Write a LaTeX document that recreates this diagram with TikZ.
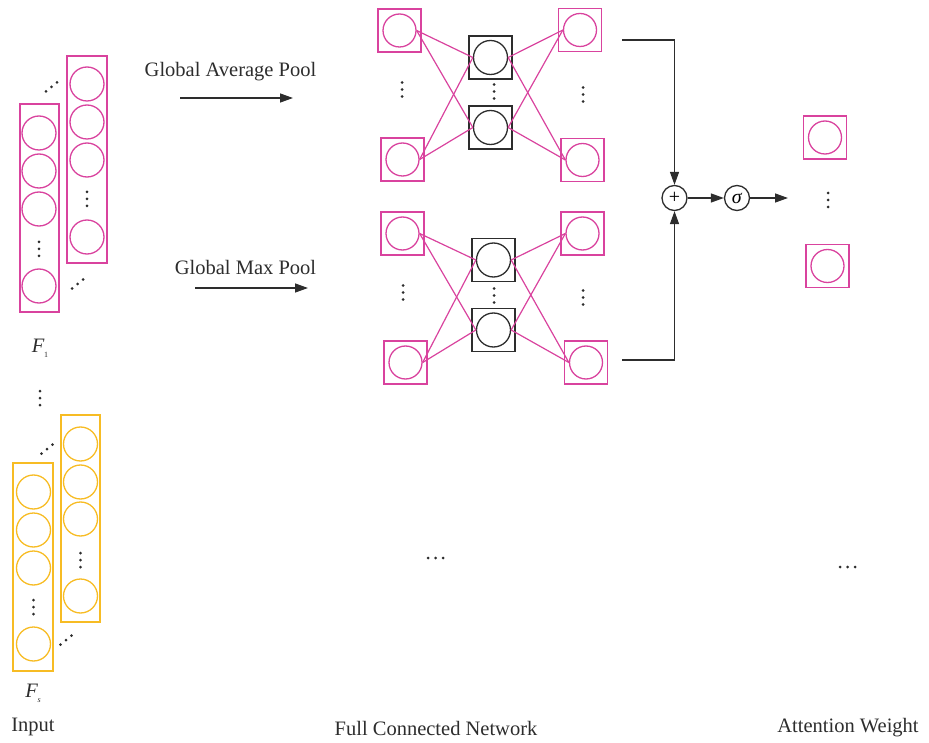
\documentclass[tikz,border=0pt]{standalone}
\usepackage{fontspec}
\setmainfont{Liberation Serif}
\usetikzlibrary{arrows.meta}
\definecolor{pinkc}{RGB}{217,67,158}
\definecolor{goldc}{RGB}{247,188,36}
\definecolor{inkc}{RGB}{45,45,45}

% three dots: vertical, horizontal, rising diagonal
\newcommand\vdotsat[2]{\fill[inkc] (#1,#2-7) circle (1.5) (#1,#2) circle (1.5) (#1,#2+7) circle (1.5);}
\newcommand\hdotsat[2]{\fill[inkc] (#1-7.5,#2) circle (1.5) (#1,#2) circle (1.5) (#1+7.5,#2) circle (1.5);}
\newcommand\ddotsat[2]{\fill[inkc] (#1-5.5,#2+4.5) circle (1.5) (#1,#2) circle (1.5) (#1+5.5,#2-4.5) circle (1.5);}

\begin{document}
\begin{tikzpicture}[x=1pt,y=-1pt,line width=1.3pt,
  pcell/.style={circle,draw=pinkc,minimum size=34pt,inner sep=0pt},
  gcell/.style={circle,draw=goldc,minimum size=34pt,inner sep=0pt},
  ubox/.style={draw=pinkc,minimum size=43pt,inner sep=0pt},
  unit/.style={circle,draw=pinkc,minimum size=33pt,inner sep=0pt},
  hbox/.style={draw=inkc,minimum size=43pt,inner sep=0pt},
  hunit/.style={circle,draw=inkc,minimum size=34pt,inner sep=0pt},
  link/.style={draw=pinkc,line width=1.2pt},
  flow/.style={draw=inkc,line width=1.3pt,-{Triangle[length=13pt,width=9pt]}},
  op/.style={circle,draw=inkc,minimum size=25pt,inner sep=0pt,font=\fontsize{20}{20}\selectfont},
  lbl/.style={font=\fontsize{20.5}{24}\selectfont,text=inkc,inner sep=0pt}
]
\useasboundingbox (0,0) rectangle (929,743);

% ---------- input feature maps F_1 ----------
\draw[pinkc] (67,56) rectangle (107,263);
\foreach \y/\n in {84/1,122/2,160/3,237/4} \node[pcell] (fa\n) at (87,\y) {};
\vdotsat{87}{199}
\draw[pinkc] (20,104) rectangle (59,312);
\foreach \y/\n in {133/1,171/2,209/3,286/4} \node[pcell] (fb\n) at (39,\y) {};
\vdotsat{39}{249}
\ddotsat{51.5}{87}
\ddotsat{77.5}{284}
\node[lbl] (f1) at (40,348) {\textit{F}\kern-0.5pt\raisebox{-5pt}{\fontsize{8}{8}\selectfont 1}};

\vdotsat{40}{398}

% ---------- input feature maps F_s ----------
\draw[goldc] (61,415) rectangle (100,622);
\foreach \y/\n in {444/1,482/2,519/3,596/4} \node[gcell] (sa\n) at (80.5,\y) {};
\vdotsat{80.5}{560}
\draw[goldc] (13,463) rectangle (53,671);
\foreach \y/\n in {492/1,530/2,568/3,644/4} \node[gcell] (sb\n) at (33.5,\y) {};
\vdotsat{33.5}{607}
\ddotsat{47}{449}
\ddotsat{66}{640}
\node[lbl] (fs) at (33,693) {\textit{F}\kern-0.5pt\raisebox{-5pt}{\fontsize{8}{8}\selectfont\itshape s}};
\node[lbl] (input) at (33,727) {Input};

% ---------- pooling arrows ----------
\node[lbl] (avg) at (230.5,72) {Global Average Pool};
\coordinate (avgA) at (180,98); \coordinate (avgB) at (293,98);
\draw[flow] (avgA) -- (avgB);
\node[lbl] (max) at (245.5,267) {Global Max Pool};
\coordinate (maxA) at (195,288); \coordinate (maxB) at (308,288);
\draw[flow] (maxA) -- (maxB);

% ---------- shared MLP, average branch ----------
\node[ubox] at (399.5,30.5) {}; \node[unit] (aL1) at (399.5,30.5) {};
\node[ubox] at (402.5,159.5) {}; \node[unit] (aL2) at (402.5,159.5) {};
\node[hbox] at (490.5,57.5) {}; \node[hunit] (aH1) at (490.5,57.5) {};
\node[hbox] at (490.5,127.5) {}; \node[hunit] (aH2) at (490.5,127.5) {};
\node[ubox] at (580,30) {}; \node[unit] (aR1) at (580,30) {};
\node[ubox] at (582.5,160) {}; \node[unit] (aR2) at (582.5,160) {};
\vdotsat{402}{89.5}
\vdotsat{494}{91.5}
\vdotsat{583}{94.5}
\foreach \i in {1,2} \foreach \j in {1,2} {
  \draw[link] (aL\i.east) -- (aH\j.west);
  \draw[link] (aH\i.east) -- (aR\j.west);
}

% ---------- shared MLP, max branch ----------
\node[ubox] at (402.5,233.5) {}; \node[unit] (mL1) at (402.5,233.5) {};
\node[ubox] at (405.5,362.5) {}; \node[unit] (mL2) at (405.5,362.5) {};
\node[hbox] at (493.5,260) {}; \node[hunit] (mH1) at (493.5,260) {};
\node[hbox] at (493.5,330) {}; \node[hunit] (mH2) at (493.5,330) {};
\node[ubox] at (582.5,233.5) {}; \node[unit] (mR1) at (582.5,233.5) {};
\node[ubox] at (586,362.5) {}; \node[unit] (mR2) at (586,362.5) {};
\vdotsat{403}{292.5}
\vdotsat{494}{295.5}
\vdotsat{583}{297.5}
\foreach \i in {1,2} \foreach \j in {1,2} {
  \draw[link] (mL\i.east) -- (mH\j.west);
  \draw[link] (mH\i.east) -- (mR\j.west);
}

\hdotsat{435.5}{558}

% ---------- merge and activation ----------
\node[op] (plus) at (674.5,198) {+};
\node[op] (sig) at (737,198) {\textit{σ}};
\coordinate (avgOut) at (622,40);
\coordinate (maxOut) at (622,360);
\coordinate (outEnd) at (788,198);
\draw[flow] (avgOut) -| (plus.north);
\draw[flow] (maxOut) -| (plus.south);
\draw[flow] (plus.east) -- (sig.west);
\draw[flow] (sig.east) -- (outEnd);

% ---------- attention weights ----------
\node[ubox] at (825,137.5) {}; \node[unit] (w1) at (825,137.5) {};
\node[ubox] at (827.5,266) {}; \node[unit] (w2) at (827.5,266) {};
\vdotsat{828}{200}
\hdotsat{847.5}{567}

% ---------- captions ----------
\node[lbl] (fcn) at (436,728) {Full Connected Network};
\node[lbl] (att) at (848,728) {Attention Weight};
\end{tikzpicture}
\end{document}
